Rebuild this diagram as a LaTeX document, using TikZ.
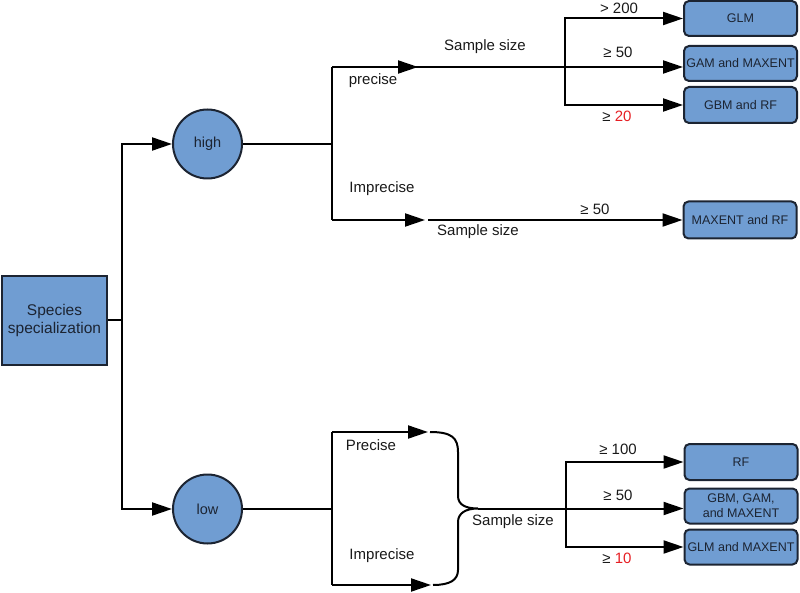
\documentclass[tikz,border=0pt]{standalone}
\usepackage{fontspec}
\setmainfont{Liberation Sans}
\usetikzlibrary{arrows.meta}
\definecolor{boxblue}{RGB}{112,157,210}
\definecolor{edgecol}{RGB}{28,36,50}
\definecolor{txt}{RGB}{25,25,25}
\definecolor{redtxt}{RGB}{230,30,35}
\tikzset{
  box/.style={draw=edgecol, fill=boxblue, line width=2pt, rounded corners=5pt,
    minimum width=113pt, minimum height=35pt, inner sep=0pt, align=center,
    text=edgecol, font=\fontsize{12.5}{15}\selectfont},
  circ/.style={circle, draw=edgecol, fill=boxblue, line width=2pt, minimum size=69pt,
    inner sep=0pt, text=edgecol, font=\fontsize{14.5}{16}\selectfont},
  lbl/.style={text=txt, inner sep=0pt, font=\fontsize{15}{18}\selectfont},
  conn/.style={line width=2pt, draw=black},
  arr/.style={conn, -{Triangle[length=20pt,width=13pt]}},
}
\begin{document}
\begin{tikzpicture}[x=1pt,y=-1pt]
\useasboundingbox (0,0) rectangle (800,593);
% nodes
\node[draw=edgecol, fill=boxblue, line width=2pt, minimum width=105pt, minimum height=89pt,
  inner sep=0pt, align=center, text=edgecol, font=\fontsize{15.5}{18}\selectfont]
  (spec) at (54.5,320.5) {Species\\specialization};
\node[circ] (high) at (207.5,144) {high};
\node[circ] (low) at (207.5,509) {low};

\node[box] (glm1) at (740.5,18.5) {GLM};
\node[box] (gam1) at (740.5,63.5) {GAM and MAXENT};
\node[box, minimum height=36pt] (gbm1) at (740.5,105) {GBM and RF};
\node[box, minimum height=37pt] (maxrf) at (740,220) {MAXENT and RF};
\node[box, minimum height=36pt] (rf2) at (741,462) {RF};
\node[box] (gbm2) at (741,506) {GBM, GAM,\\and MAXENT};
\node[box] (glm2) at (741,547) {GLM and MAXENT};

% labels
\node[lbl] (lprec1) at (373,81) {precise};
\node[lbl] (lss1) at (485,47) {Sample size};
\node[lbl] (l200) at (619,8) {> 200};
\node[lbl] (l50a) at (618,52) {≥ 50};
\node[lbl] (l20) at (617,116) {≥ \textcolor{redtxt}{20}};
\node[lbl] (limp1) at (382,189) {Imprecise};
\node[lbl] (l50b) at (595,209) {≥ 50};
\node[lbl] (lss2) at (478,232) {Sample size};
\node[lbl] (lprec2) at (371,445) {Precise};
\node[lbl] (limp2) at (382,556) {Imprecise};
\node[lbl] (lss3) at (513,522) {Sample size};
\node[lbl] (l100) at (618,449) {≥ 100};
\node[lbl] (l50c) at (618,495) {≥ 50};
\node[lbl] (l10) at (617,558) {≥ \textcolor{redtxt}{10}};

% junction coordinates
\coordinate (sj) at (122,320.5);
\coordinate (hj) at (332,144);
\coordinate (hp) at (332,67);
\coordinate (hpa) at (418,67);
\coordinate (ss1) at (565,67);
\coordinate (hi) at (332,220);
\coordinate (hia) at (425,220);
\coordinate (hib) at (428,220);
\coordinate (lj) at (332,509);
\coordinate (lp) at (332,432);
\coordinate (lpa) at (428,432);
\coordinate (li) at (332,585);
\coordinate (lia) at (431,585);
\coordinate (bt) at (430,432);
\coordinate (bp) at (478,508.5);
\coordinate (bb) at (433,585);
\coordinate (ss2) at (566,508.5);

% species to high/low
\draw[conn] (spec.east) -- (sj);
\draw[arr] (sj) |- (high);
\draw[arr] (sj) |- (low);

% high branch
\draw[conn] (high.east) -- (hj);
\draw[conn] (hp) -- (hi);
\draw[conn] (hp) -- (ss1);
\draw[arr] (hp) -- (hpa);
\draw[arr] (ss1) |- (glm1.west);
\draw[arr] (ss1) -- (ss1 -| gam1.west);
\draw[arr] (ss1) |- (gbm1.west);
\draw[arr] (hi) -- (hia);
\draw[arr] (hib) -- (maxrf);

% low branch
\draw[conn] (low.east) -- (lj);
\draw[conn] (lp) -- (li);
\draw[arr] (lp) -- (lpa);
\draw[arr] (li) -- (lia);
\draw[conn] (bt) .. controls (452,432) and (458,438) .. (458,452) -- (458,496)
  .. controls (458,505) and (466,508.5) .. (bp)
  .. controls (466,508.5) and (458,513) .. (458,522) -- (458,570)
  .. controls (458,580) and (450,585) .. (bb);
\draw[conn] (bp) -- (ss2);
\draw[arr] (ss2) |- (rf2.west);
\draw[arr] (ss2) -- (ss2 -| gbm2.west);
\draw[arr] (ss2) |- (glm2.west);
\end{tikzpicture}
\end{document}
